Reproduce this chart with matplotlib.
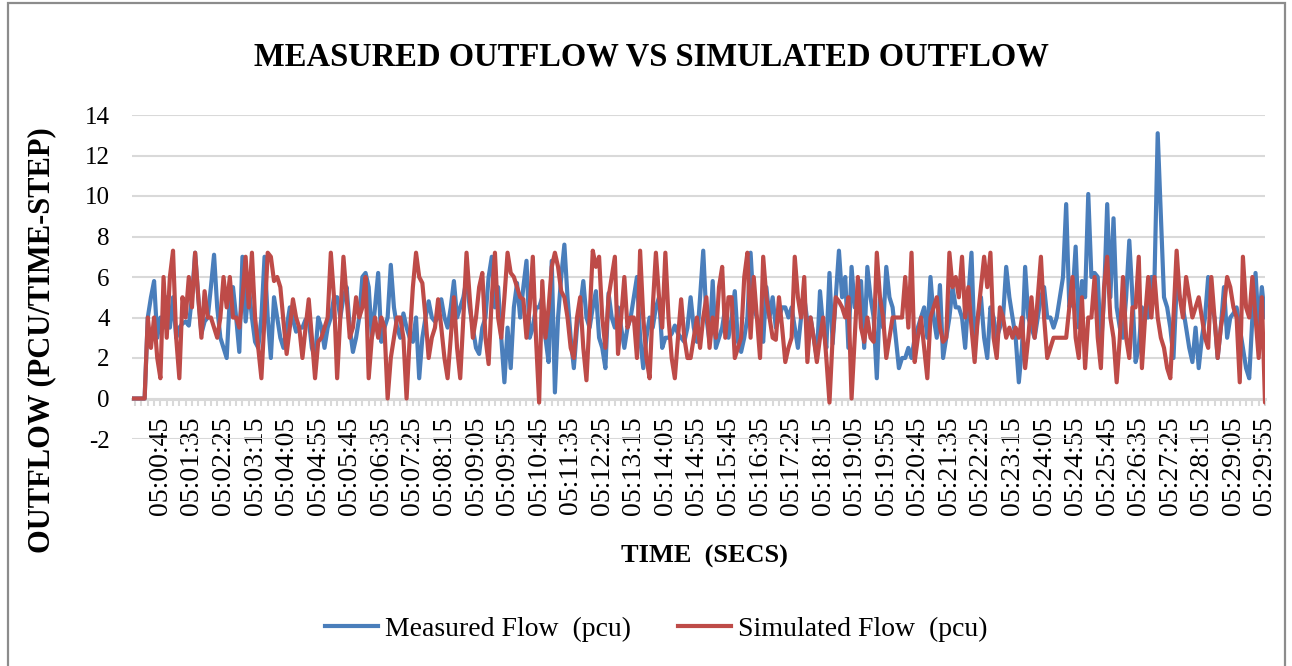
import matplotlib
matplotlib.use("Agg")
import matplotlib.pyplot as plt
import numpy as np
from matplotlib.patches import Rectangle
from matplotlib.lines import Line2D

plt.rcParams['font.family'] = ['Liberation Serif', 'DejaVu Serif']
plt.rcParams['axes.unicode_minus'] = False

# ---- data (5-second steps from 05:00:00) ----
measured = [
    0, 0, 0, 0, 0, 4, 5, 5.8, 3, 4,
    3.5, 5, 3.5, 5, 3, 3.5, 3.7, 3.8, 3.6, 5,
    7.2, 5, 3.2, 3.8, 4, 5.5, 7.1, 4.5, 3, 2.5,
    2, 5, 5.5, 4, 2.3, 7, 3.8, 5.5, 4, 2.8,
    2.5, 4, 7, 4, 2, 5, 4, 3, 2.5, 3.5,
    4.5, 3.9, 3.3, 3.5, 3.5, 3.9, 3.9, 2.5, 2, 4,
    3.5, 2.5, 3.5, 4, 5, 5, 4, 5, 5.5, 3.5,
    2.3, 3, 4, 6, 6.2, 5.5, 3, 4.5, 6.2, 2.8,
    3.5, 4, 6.6, 4.5, 3.5, 3, 4.2, 3.5, 3, 2.8,
    4, 1, 3, 4, 4.8, 4, 3.8, 4, 4.9, 4,
    3.5, 4.5, 5.8, 4, 4.5, 5, 5.9, 4.5, 3.5, 2.5,
    2.2, 3.5, 4, 6, 7, 4.5, 5.5, 3, 0.8, 3.5,
    1.5, 4.5, 5.7, 4, 5.5, 6.8, 3, 3.5, 4.5, 4.5,
    5, 3, 1.8, 6.8, 0.3, 4, 6, 7.6, 5, 3,
    1.5, 3.5, 4.5, 5.8, 4, 3.5, 4.5, 5.3, 3, 2.5,
    1.5, 5.2, 4, 3.5, 4.5, 3.5, 2.5, 3.5, 4, 5,
    6, 3, 1.5, 3, 4, 3.5, 4.5, 5, 2.5, 3,
    3, 3.2, 3.6, 3.2, 3, 2.8, 3.5, 5, 3.5, 2.8,
    5, 7.3, 4, 2.8, 5.8, 2.5, 3, 3.5, 4.5, 3,
    4, 5.3, 2.8, 2.3, 3, 4, 7.2, 4.5, 4, 3.5,
    2.8, 5.5, 4, 5, 3.5, 4, 4.5, 4.5, 4, 4.5,
    3.5, 2.5, 4, 5, 3.8, 4, 3, 2, 5.3, 3.5,
    2.5, 6.2, 2.7, 5, 7.3, 5, 6, 2.5, 6.5, 4.5,
    4.5, 5.8, 2.5, 6.5, 5, 4, 1, 5, 3.5, 6.5,
    5, 4.5, 3, 1.5, 2, 2, 2.5, 2, 3, 3.5,
    4, 4.5, 3, 6, 4, 3, 5.6, 2, 3, 4,
    5.5, 4.5, 4.5, 4, 2.5, 5, 7.2, 2.5, 4, 5,
    3, 2, 4.5, 4, 3, 3.5, 4, 6.5, 5, 4,
    3, 0.8, 2.5, 6.5, 4, 3.5, 3, 4, 5, 5.5,
    4, 4, 3.5, 4, 5, 6, 9.6, 4.5, 5, 7.5,
    3.5, 5.8, 5, 10.1, 6, 6.2, 6, 2.5, 5, 9.6,
    5, 8.9, 4.5, 3.5, 3, 5, 7.8, 5, 1.8, 2.5,
    4.5, 4, 4, 6, 6, 13.1, 9, 5, 4.5, 3.5,
    2, 5.5, 5, 4.5, 3.5, 2.5, 1.8, 3.5, 1.5, 3,
    4, 6, 4.5, 4, 2, 3.5, 5.5, 3, 4, 4.2,
    4.5, 3.5, 2.5, 1.5, 1, 4, 6.2, 3.5, 5.5, 4,
]

simulated = [
    0, 0, 0, 0, 0, 4, 2.5, 4, 2, 1,
    6, 3, 6, 7.3, 3, 1, 5, 4, 6, 4.5,
    7.2, 5, 3, 5.3, 4, 4, 3.5, 3, 4, 6,
    4.5, 6, 4, 4, 3.5, 5, 7, 4.5, 7.2, 4,
    2.5, 1, 4, 7.2, 7, 5.8, 6, 5.5, 3.8, 2.2,
    3.5, 4.9, 4, 3.5, 2, 3.5, 4.9, 3, 1, 2.8,
    3, 3.5, 4, 7.2, 5, 1, 4, 7, 5, 3,
    3.5, 5, 4, 4.5, 6, 1, 3, 4, 3, 4,
    3.5, 0, 2, 3, 4, 4, 3, 0, 3, 5.5,
    7.2, 6, 5.7, 4, 2, 3, 3.5, 4.9, 3.5, 2,
    1, 3, 5, 2.5, 1, 4, 7.2, 5, 3, 4,
    5.5, 6.2, 3, 1.7, 5, 7.2, 4, 3, 5, 7.2,
    6.2, 6, 5.5, 5, 4.9, 3, 4.5, 7, 3, -0.2,
    5.8, 3, 4.5, 6.5, 7.2, 6.5, 5.3, 5, 4, 2.5,
    2, 4, 5, 2.5, 0.9, 4, 7.3, 6.5, 7, 4,
    2.5, 5, 6, 7, 2.2, 4, 6, 3.5, 4, 4,
    2, 7.3, 4, 2, 1, 4.5, 7.2, 5, 3.5, 7.2,
    4, 2, 1, 3, 4.9, 3, 2, 2, 3, 4,
    2.5, 4, 5, 2.5, 4, 3, 5.5, 6.5, 3, 5,
    5, 2, 2.5, 3, 6, 7.2, 3, 6, 4, 2,
    7, 5, 4, 3, 2.9, 5, 3.5, 1.8, 2.5, 3,
    7, 5, 4, 6, 1.8, 4, 3, 1.8, 3, 4,
    2, -0.2, 3, 5, 4.8, 4.5, 4, 5, 0, 3,
    6, 3.5, 2.8, 4, 3, 2.8, 7.2, 5, 4, 2,
    3, 4, 4, 4, 4, 6, 3.5, 7.2, 1.8, 3,
    4, 2.5, 1, 4, 4.5, 5, 3.5, 2.8, 3, 7.2,
    5.5, 6, 5, 7, 4, 5.5, 3.5, 1.8, 4, 5.5,
    7, 5.5, 7.2, 3, 2, 4.5, 4, 3, 3.5, 3,
    3.5, 3, 4, 1.5, 3, 5, 3, 5, 7, 4,
    2, 2.5, 3, 3, 3, 3, 3, 4.5, 6, 3,
    2, 5, 1.5, 4, 4, 6, 3, 1.5, 5.5, 7,
    4, 3, 0.8, 3, 6, 3, 2, 4.5, 4.5, 7,
    1.5, 4, 6, 4, 6, 4, 3, 2.5, 1.5, 1,
    4, 7.3, 5, 4, 6, 5, 4, 4.5, 5, 4,
    3, 2.5, 6, 4, 2, 3.5, 4.5, 6, 5.5, 4.5,
    4, 0.8, 7, 4.5, 4, 6, 4, 2, 5, -0.2,
]

n_points = len(measured)
times = [f"05:{(i * 5) // 60:02d}:{(i * 5) % 60:02d}" for i in range(n_points)]
label_positions = list(range(9, n_points, 10))
tick_labels = [times[i] for i in label_positions]
y_ticks = [-2, 0, 2, 4, 6, 8, 10, 12, 14]

series_names = ["Measured Flow  (pcu)", "Simulated Flow  (pcu)"]
colors = ["#4a7ebb", "#be4b48"]

W, H = 1292, 666
fig = plt.figure(figsize=(W / 100, H / 100), dpi=100)

# outer chart border
fig.add_artist(Rectangle((8 / W, -0.02), (1285 - 8) / W, 1.0 - 3 / H + 0.02,
                         transform=fig.transFigure, fill=False,
                         edgecolor="#8c8c8c", linewidth=1.6))

ax = fig.add_axes([132 / W, 1 - 439 / H, (1265 - 132) / W, (439 - 115) / H])
x = np.arange(n_points)

ax.plot(x, measured, color=colors[0], linewidth=3.0, solid_joinstyle="round",
        solid_capstyle="round", zorder=3)
ax.plot(x, simulated, color=colors[1], linewidth=3.0, solid_joinstyle="round",
        solid_capstyle="round", zorder=4)

ax.set_xlim(0, n_points - 1)
ax.set_ylim(-2, 14)
ax.set_yticks(y_ticks)
ax.grid(axis="y", color="#d9d9d9", linewidth=1.5, zorder=0)
ax.set_axisbelow(True)

for s in ["top", "right", "left"]:
    ax.spines[s].set_visible(False)
ax.spines["bottom"].set_position(("data", 0))
ax.spines["bottom"].set_color("#d9d9d9")
ax.spines["bottom"].set_linewidth(2.2)
ax.spines["bottom"].set_zorder(2)

ax.set_xticks(label_positions)
ax.set_xticklabels(tick_labels, rotation=90, fontsize=20)
ax.set_xticks(np.arange(1, n_points, 2), minor=True)
ax.tick_params(axis="x", which="both", length=5, width=1.5, color="#d9d9d9",
               direction="out", pad=8)
ax.tick_params(axis="y", length=0, labelsize=18, pad=16)

fig.text(651 / W, 1 - 57 / H, "MEASURED OUTFLOW VS SIMULATED OUTFLOW",
         ha="center", va="center", fontsize=23.5, fontweight="bold")
fig.text(42 / W, 1 - 340 / H, "OUTFLOW (PCU/TIME-STEP)", ha="center",
         va="center", rotation=90, fontsize=22, fontweight="bold")
fig.text(704 / W, 1 - 556 / H, "TIME  (SECS)", ha="center", va="center",
         fontsize=19, fontweight="bold")

handles = [Line2D([], [], color=c, linewidth=3.0) for c in colors]
fig.legend(handles, series_names, loc="center", ncol=2,
           bbox_to_anchor=(656 / W, 1 - 629 / H), frameon=False, fontsize=20,
           handlelength=1.9, handletextpad=0.25, columnspacing=1.7)

fig.savefig("out.png", dpi=100)
